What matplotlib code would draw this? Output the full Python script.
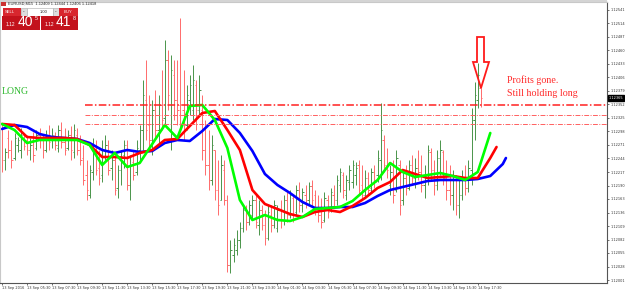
import matplotlib
matplotlib.use('Agg')
import matplotlib.pyplot as plt
import numpy as np
from matplotlib.patches import Polygon, Rectangle

W, H = 625, 291
BASE = 1.12  # prices below are in points above 1.12000

# EURUSD M15 bars, 13 Sep 03:30 onwards
high_pts = [313, 265, 301, 281, 295, 287, 305, 295, 291, 285, 297, 301, 305, 291, 301, 311,
            305, 297, 311, 317, 305, 301, 309, 313, 305, 291, 271, 241, 231, 285, 281, 261,
            281, 291, 281, 261, 251, 231, 261, 281, 281, 251, 261, 281, 311, 401, 441, 371,
            361, 381, 371, 421, 481, 461, 451, 441, 441, 525, 421, 391, 411, 431, 401, 411,
            371, 321, 301, 291, 261, 241, 251, 241, 171, 81, 85, 101, 117, 151, 151, 161,
            171, 171, 161, 151, 141, 151, 151, 161, 151, 161, 171, 177, 181, 171, 191, 197,
            185, 191, 197, 201, 181, 171, 165, 177, 171, 185, 191, 211, 225, 217, 211, 231,
            241, 237, 241, 231, 221, 217, 225, 231, 261, 355, 291, 265, 231, 241, 261, 241,
            221, 231, 241, 251, 245, 261, 251, 231, 271, 265, 241, 261, 281, 261, 241, 231,
            221, 211, 201, 221, 231, 241, 345, 397, 435, 391]
low_pts = [217, 221, 245, 225, 241, 257, 245, 261, 251, 241, 237, 261, 265, 245, 257, 261,
           265, 261, 257, 265, 251, 261, 241, 245, 251, 231, 191, 161, 165, 201, 211, 191,
           197, 241, 211, 201, 171, 165, 191, 225, 181, 161, 201, 211, 241, 261, 281, 261,
           251, 281, 271, 301, 311, 341, 261, 321, 311, 301, 281, 301, 331, 321, 301, 331,
           241, 211, 181, 191, 161, 131, 161, 151, 17, 15, 37, 51, 65, 97, 101, 111,
           121, 105, 91, 101, 71, 81, 97, 105, 97, 105, 111, 117, 125, 117, 131, 137,
           137, 145, 151, 149, 131, 117, 105, 117, 125, 137, 145, 151, 177, 165, 161, 181,
           185, 191, 171, 161, 165, 171, 177, 185, 197, 201, 217, 205, 171, 155, 177, 131,
           151, 171, 181, 191, 185, 201, 177, 165, 191, 201, 171, 181, 211, 191, 161, 151,
           141, 131, 125, 161, 171, 177, 191, 281, 345, 347]
open_pts = [305, 241, 285, 261, 245, 271, 261, 291, 281, 261, 281, 265, 291, 281, 261, 291,
            281, 291, 265, 301, 277, 265, 291, 257, 291, 261, 245, 211, 171, 217, 271, 225,
            211, 261, 271, 225, 241, 185, 221, 251, 271, 191, 237, 217, 261, 301, 361, 311,
            281, 341, 301, 351, 325, 441, 281, 411, 361, 351, 341, 311, 361, 341, 391, 341,
            341, 261, 231, 201, 261, 181, 161, 221, 161, 31, 51, 61, 81, 105, 141, 117,
            131, 161, 111, 141, 111, 85, 131, 111, 105, 141, 121, 161, 131, 165, 137, 181,
            151, 171, 161, 189, 171, 141, 131, 121, 161, 141, 171, 161, 191, 211, 171, 197,
            197, 211, 231, 191, 171, 205, 185, 217, 211, 241, 281, 231, 191, 217, 181, 231,
            161, 205, 185, 231, 205, 225, 217, 191, 211, 257, 221, 191, 245, 257, 205, 181,
            171, 201, 151, 171, 205, 185, 221, 321, 361, 385]
close_pts = [241, 257, 261, 241, 285, 281, 291, 269, 261, 271, 251, 291, 281, 261, 289, 277,
             291, 271, 301, 277, 261, 291, 261, 301, 261, 241, 201, 181, 221, 271, 221, 205,
             261, 271, 221, 241, 181, 221, 245, 271, 191, 231, 211, 265, 301, 371, 301, 281,
             341, 301, 351, 321, 441, 371, 421, 361, 341, 331, 311, 371, 391, 401, 341, 381,
             261, 231, 201, 271, 181, 151, 231, 161, 31, 61, 71, 81, 105, 141, 117, 151,
             161, 117, 141, 111, 85, 137, 111, 151, 141, 121, 161, 131, 171, 131, 181, 151,
             177, 161, 189, 161, 141, 131, 117, 165, 137, 177, 161, 201, 217, 181, 201, 221,
             231, 225, 181, 171, 205, 181, 217, 197, 245, 301, 231, 221, 217, 171, 245, 151,
             205, 185, 231, 205, 225, 217, 191, 211, 261, 221, 191, 245, 261, 205, 181, 171,
             201, 151, 171, 205, 185, 225, 321, 371, 411, 365]

# Alligator lines (jaw / teeth / lips), read every 4 bars, shifted forward 8 / 5 / 3 bars
jaw_idx = list(range(0, 161, 4)) + [161]
jaw_pts = [303, 311, 307, 293, 287, 285, 283, 275, 261, 255, 261, 257, 259, 275, 281, 279,
           299, 323, 321, 295, 259, 213, 191, 175, 157, 145, 145, 147, 147, 155, 169, 181,
           187, 193, 199, 201, 201, 201, 203, 209, 233, 245]
teeth_idx = list(range(0, 157, 4)) + [158]
teeth_pts = [313, 311, 287, 285, 285, 285, 283, 271, 247, 247, 245, 255, 261, 281, 283, 309,
             335, 339, 301, 261, 181, 153, 143, 133, 127, 137, 141, 137, 149, 165, 185, 197,
             221, 213, 205, 207, 209, 205, 205, 245, 267]
lips_idx = list(range(0, 153, 4)) + [156]
lips_pts = [313, 301, 275, 281, 281, 281, 281, 271, 231, 255, 227, 235, 273, 311, 285, 349,
            351, 321, 265, 161, 121, 131, 121, 119, 127, 143, 145, 147, 159, 181, 201, 235,
            217, 207, 211, 215, 209, 201, 217, 295]

levels = [1.12351, 1.12331, 1.12313]
level_start = 26.5

time_labels = ['13 Sep 2016', '13 Sep 05:30', '13 Sep 07:30', '13 Sep 09:30', '13 Sep 11:30',
               '13 Sep 13:30', '13 Sep 15:30', '13 Sep 17:30', '13 Sep 19:30', '13 Sep 21:30',
               '13 Sep 23:30', '14 Sep 01:30', '14 Sep 03:30', '14 Sep 05:30', '14 Sep 07:30',
               '14 Sep 09:30', '14 Sep 11:30', '14 Sep 13:30', '14 Sep 15:30', '14 Sep 17:30']
price_ticks = [round(1.12001 + 0.00027 * j, 5) for j in range(21)]


def to_price(pts):
    return BASE + np.array(pts) / 1e5


hi, lo = to_price(high_pts), to_price(low_pts)
op, cl = to_price(open_pts), to_price(close_pts)
idx = np.arange(len(hi))
up = cl >= op

fig = plt.figure(figsize=(W / 100, H / 100), dpi=100)
fig.patch.set_facecolor('white')
ax = fig.add_axes([0, 1 - 283 / H, 607 / W, 281 / H])
ax.set_xlim(-2 / 3.13, 605 / 3.13)
ax.set_ylim(1.11995, 1.12557)

colors = np.where(up, '#4a944a', '#ff6b6b')
ax.vlines(idx, lo, hi, colors=colors, lw=0.7)
ax.hlines(op, idx - 0.45, idx, colors=colors, lw=0.7)
ax.hlines(cl, idx, idx + 0.45, colors=colors, lw=0.7)

ax.plot(jaw_idx, to_price(jaw_pts), color='#0000ff', lw=1.9, solid_capstyle='round')
ax.plot(teeth_idx, to_price(teeth_pts), color='#ff0000', lw=1.9, solid_capstyle='round')
ax.plot(lips_idx, to_price(lips_pts), color='#00ff00', lw=1.9, solid_capstyle='round')

for k, lvl in enumerate(levels):
    ax.hlines(lvl, level_start, 200, colors='#ff2020' if k == 0 else '#ff6060',
              lw=1.1 if k == 0 else 0.7, linestyles=(0, (5, 1.5, 1, 1.5)))

# axes look like the terminal
ax.yaxis.tick_right()
ax.set_yticks(price_ticks)
ax.set_yticklabels(['%.5f' % p for p in price_ticks])
ax.set_xticks(range(0, 8 * len(time_labels), 8))
ax.set_xticklabels(time_labels)
ax.tick_params(axis='both', labelsize=2.5, length=1.5, width=0.5, pad=0.8, colors='#333333')
for lbl in ax.get_xticklabels():
    lbl.set_ha('left')
for side in ['top', 'left']:
    ax.spines[side].set_color('#c8c8c8')
for side in ['bottom', 'right']:
    ax.spines[side].set_color('#555555')
    ax.spines[side].set_linewidth(0.8)

# bid price box
ax.text(1.003, cl[-1], '%.5f' % cl[-1], transform=ax.get_yaxis_transform(), fontsize=2.5,
        color='white', va='center', ha='left',
        bbox=dict(boxstyle='square,pad=0.25', fc='black', ec='black'))


def fx(x):
    return x / W


def fy(y):
    return 1 - y / H


def box(x0, y0, x1, y1, color, ec='none'):
    fig.add_artist(Rectangle((fx(x0), fy(y1)), fx(x1) - fx(x0), fy(y0) - fy(y1),
                             transform=fig.transFigure, facecolor=color, edgecolor=ec, lw=0.4))


def label(x, y, s, size, color='white', **kw):
    kw.setdefault('family', 'Liberation Sans')
    fig.text(fx(x), fy(y), s, fontsize=size, color=color, va='center', **kw)


# top frame
box(0, 0, 607, 2, '#d4d4d4')

# one-click trading panel
box(1, 2, 6, 6, '#cc3333')
label(8, 4, 'EURUSD,M15  1.12409 1.12444 1.12406 1.12418', 2.8, color='#222222')
box(3, 8, 21, 15.5, '#d8262e')
label(5, 11.8, 'SELL', 3.0)
box(21, 8, 27, 15.5, '#dddddd', ec='#aaaaaa')
label(22.5, 11.5, '-', 3.5, color='#333333')
box(27, 8, 53, 15.5, 'white', ec='#aaaaaa')
label(40, 11.8, '1.00', 3.0, color='#222222')
box(53, 8, 59, 15.5, '#dddddd', ec='#aaaaaa')
label(54.5, 11.5, '-', 3.5, color='#333333')
box(59, 8, 78, 15.5, '#d8262e')
label(64, 11.8, 'BUY', 3.0)
box(2, 15.5, 40, 29.5, '#c3121c')
box(41, 15.5, 78, 29.5, '#c3121c')
label(6, 25, '1.12', 3.5)
label(18, 22.5, '40', 10)
label(34.5, 19, '5', 4)
label(45, 25, '1.12', 3.5)
label(56, 22.5, '41', 10)
label(72.5, 19, '8', 4)

# annotations
label(2, 92, 'LONG', 7, color='#2db82d', family='Liberation Serif')
label(507, 80, 'Profits gone.', 7.2, color='#ff2a2a', family='Liberation Serif')
label(507, 94, 'Still holding long', 7.2, color='#ff2a2a', family='Liberation Serif')
arrow = [(477, 37), (484, 37), (484, 62), (489, 62), (481, 88), (473, 62), (477, 62)]
fig.add_artist(Polygon([(fx(x), fy(y)) for x, y in arrow], closed=True, fill=False,
                       edgecolor='#ff1a1a', lw=1.3, transform=fig.transFigure))

fig.savefig('out.png', dpi=100)
